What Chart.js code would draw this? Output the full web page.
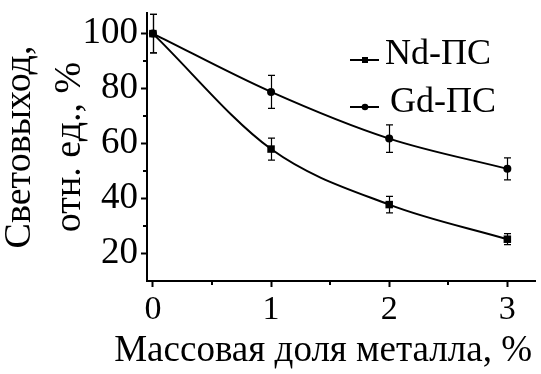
<!DOCTYPE html>
<html>
<head>
<meta charset="utf-8">
<title>Световыход</title>
<script src="https://cdn.jsdelivr.net/npm/chart.js@4.4.0/dist/chart.umd.min.js"></script>
<style>
  html, body { margin: 0; padding: 0; background: #fff; }
  canvas { display: block; }
</style>
</head>
<body>
<canvas id="chart" width="541" height="374"></canvas>
<script>
// mass fraction of metal, %
const massFraction = [0, 1, 2, 3];
// relative light yield, %
const ndYield = [100, 58, 37.8, 25.2];
const ndError = [7, 4, 3, 2];
const gdYield = [100, 78.8, 61.8, 50.8];
const gdError = [7, 6, 5, 4];

const seriesLabels = ['Nd-ПС', ' Gd-ПС'];
const xTicks = [0, 1, 2, 3];
const xMinorTicks = [0.5, 1.5, 2.5];
const yTicks = [20, 40, 60, 80, 100];
const yMinorTicks = [30, 50, 70, 90];
const xTitle = 'Массовая доля металла, %';
const yTitle = ['Световыход,', 'отн. ед., %'];

const FONT = '"Liberation Serif", "Times New Roman", serif';
const INK = '#000';

// vertical error bars with small caps, drawn under the markers
const errorBars = {
  id: 'errorBars',
  beforeDatasetsDraw(chart) {
    const { ctx, scales: { x, y } } = chart;
    ctx.save();
    ctx.strokeStyle = INK;
    ctx.lineWidth = 1.2;
    chart.data.datasets.forEach((ds) => {
      ds.data.forEach((p, i) => {
        const e = ds.errors[i];
        const px = Math.round(x.getPixelForValue(p.x)) + 0.5;
        const top = y.getPixelForValue(p.y + e);
        const bot = y.getPixelForValue(p.y - e);
        ctx.beginPath();
        ctx.moveTo(px, top);
        ctx.lineTo(px, bot);
        ctx.moveTo(px - 3.5, top);
        ctx.lineTo(px + 3.5, top);
        ctx.moveTo(px - 3.5, bot);
        ctx.lineTo(px + 3.5, bot);
        ctx.stroke();
      });
    });
    ctx.restore();
  }
};

// short unlabeled ticks between the major ones
const minorTicks = {
  id: 'minorTicks',
  afterDraw(chart) {
    const { ctx, chartArea, scales: { x, y } } = chart;
    ctx.save();
    ctx.strokeStyle = INK;
    ctx.lineWidth = 2;
    ctx.beginPath();
    yMinorTicks.forEach((v) => {
      const py = Math.round(y.getPixelForValue(v));
      ctx.moveTo(chartArea.left, py);
      ctx.lineTo(chartArea.left - 4, py);
    });
    xMinorTicks.forEach((v) => {
      const px = Math.round(x.getPixelForValue(v));
      ctx.moveTo(px, chartArea.bottom);
      ctx.lineTo(px, chartArea.bottom + 4);
    });
    ctx.stroke();
    ctx.restore();
  }
};

// line + marker legend in the upper right, and the x axis title
const decorations = {
  id: 'decorations',
  afterDraw(chart) {
    const { ctx } = chart;
    const rows = [
      { y: 60, textX: 385, baseline: 64 },
      { y: 107, textX: 381, baseline: 112 }
    ];
    ctx.save();
    chart.data.datasets.forEach((ds, i) => {
      const r = rows[i];
      ctx.strokeStyle = INK;
      ctx.fillStyle = INK;
      ctx.lineWidth = 2;
      ctx.beginPath();
      ctx.moveTo(350, r.y);
      ctx.lineTo(379, r.y);
      ctx.stroke();
      ctx.beginPath();
      if (ds.pointStyle === 'rect') {
        ctx.rect(362, r.y - 3, 6, 6);
      } else {
        ctx.arc(365, r.y, 3.3, 0, Math.PI * 2);
      }
      ctx.fill();
      ctx.font = '36px ' + FONT;
      ctx.textAlign = 'left';
      ctx.textBaseline = 'alphabetic';
      ctx.fillText(ds.label, r.textX, r.baseline);
    });
    ctx.font = '37px ' + FONT;
    ctx.textAlign = 'right';
    ctx.fillText(xTitle, 532, 361);
    ctx.restore();
  }
};

const series = (label, values, errors, style, radius) => ({
  label,
  data: massFraction.map((m, i) => ({ x: m, y: values[i] })),
  errors,
  borderColor: INK,
  backgroundColor: INK,
  borderWidth: 2,
  pointStyle: style,
  pointRadius: radius,
  pointBorderWidth: 0,
  cubicInterpolationMode: 'monotone',
  clip: false
});

new Chart(document.getElementById('chart'), {
  type: 'line',
  data: {
    datasets: [
      series(seriesLabels[0], ndYield, ndError, 'rect', 5.3),
      series(seriesLabels[1], gdYield, gdError, 'circle', 4)
    ]
  },
  options: {
    responsive: false,
    animation: false,
    devicePixelRatio: 1,
    layout: { padding: { top: 13, left: 0, right: 0, bottom: 0 } },
    plugins: { legend: { display: false }, tooltip: { enabled: false } },
    scales: {
      x: {
        type: 'linear',
        min: -0.05,
        max: 3.24,
        afterBuildTicks: (s) => { s.ticks = xTicks.map((v) => ({ value: v })); },
        afterFit: (s) => { s.height = 93; s.paddingLeft = 0; s.paddingRight = 0; },
        grid: { drawOnChartArea: false, tickLength: 6, tickWidth: 2, tickColor: INK },
        border: { color: INK, width: 2 },
        ticks: { color: INK, font: { family: FONT, size: 34 }, padding: 3, maxRotation: 0, autoSkip: false }
      },
      y: {
        type: 'linear',
        min: 10,
        max: 107.5,
        afterBuildTicks: (s) => { s.ticks = yTicks.map((v) => ({ value: v })); },
        afterFit: (s) => { s.width = 147; s.paddingTop = 0; s.paddingBottom = 0; },
        grid: { drawOnChartArea: false, tickLength: 6, tickWidth: 2, tickColor: INK },
        border: { color: INK, width: 2 },
        ticks: { color: INK, font: { family: FONT, size: 37 }, padding: 3, autoSkip: false },
        title: {
          display: true,
          text: yTitle,
          color: INK,
          font: { family: FONT, size: 38, lineHeight: 1.3 },
          padding: { top: -4.5, bottom: 0 }
        }
      }
    }
  },
  plugins: [errorBars, minorTicks, decorations]
});
</script>
</body>
</html>
